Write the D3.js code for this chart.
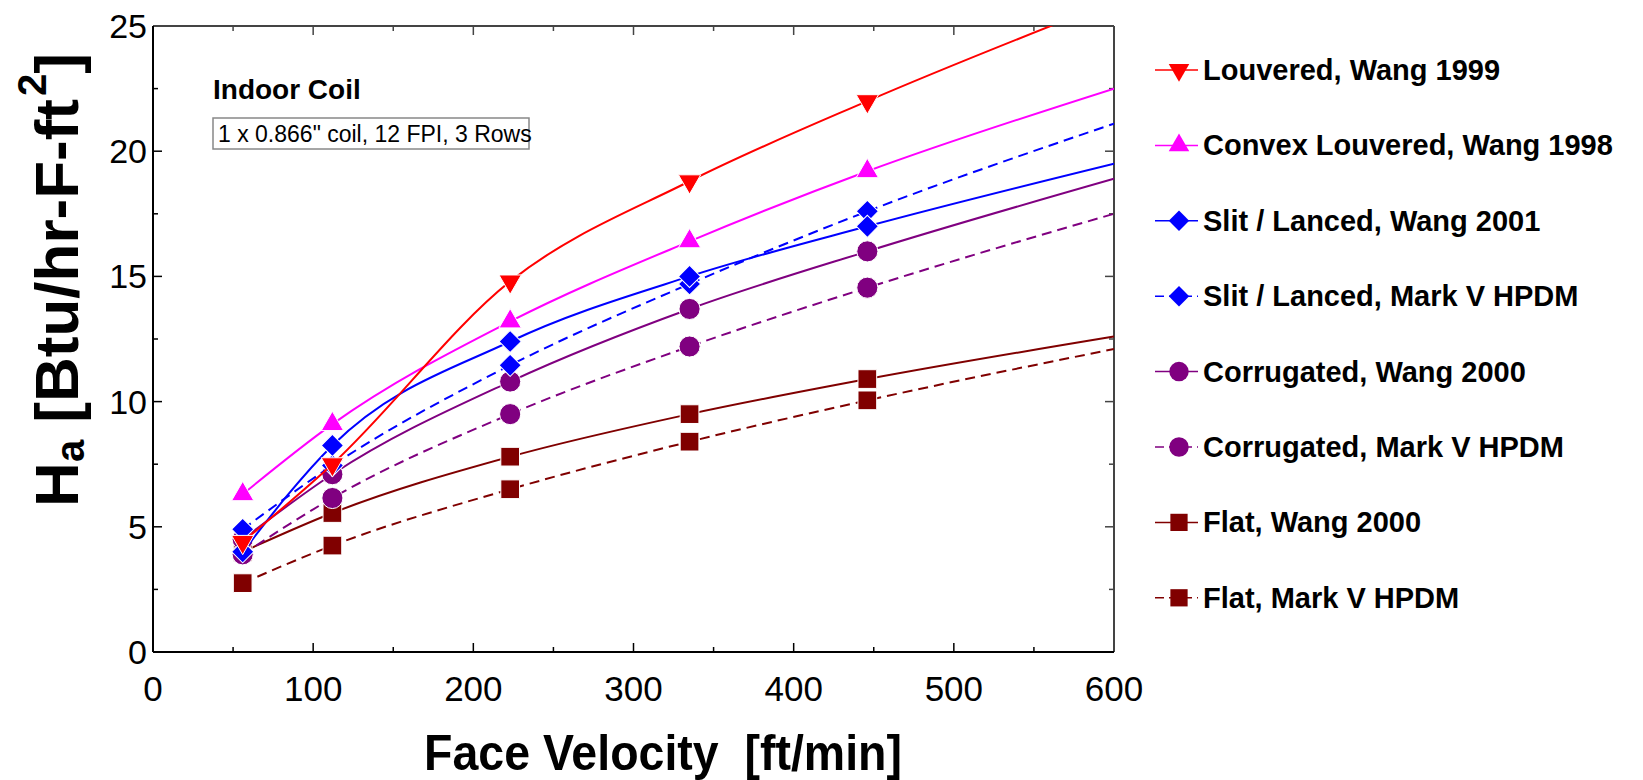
<!DOCTYPE html>
<html>
<head>
<meta charset="utf-8">
<script src="https://cdn.jsdelivr.net/npm/d3@7"></script>
<style>
  body { margin: 0; background: #fff; }
  svg { display: block; font-family: Arial, "Liberation Sans", sans-serif; }
</style>
</head>
<body>
<div id="chart"></div>
<script>
// face velocity of the measured points [ft/min]
var velocity = [56, 112, 223, 335, 446];
var velocityEnd = 600; // fitted curves run out to the axis end

// Ha values at the points, plus the value of the curve at 600
var louveredWang1999 = [4.4, 7.5, 14.8, 18.8, 22.0],  louveredWang1999End = 26.0;
var convexWang1998   = [6.3, 9.1, 13.2, 16.4, 19.2],  convexWang1998End = 22.5;
var slitWang2001     = [4.0, 8.25, 12.4, 15.0, 17.0], slitWang2001End = 19.5;
var slitMarkV        = [4.9, 7.45, 11.45, 14.7, 17.6], slitMarkVEnd = 21.1;
var corrWang2000     = [4.5, 7.1, 10.8, 13.7, 16.0],  corrWang2000End = 18.9;
var corrMarkV        = [3.9, 6.15, 9.5, 12.2, 14.55], corrMarkVEnd = 17.5;
var flatWang2000     = [4.0, 5.55, 7.8, 9.5, 10.9],   flatWang2000End = 12.6;
var flatMarkV        = [2.75, 4.25, 6.5, 8.4, 10.05], flatMarkVEnd = 12.1;

var xTicks = [0, 100, 200, 300, 400, 500, 600];
var yTicks = [0, 5, 10, 15, 20, 25];

var series = [
  { name: 'Louvered, Wang 1999',         vals: louveredWang1999, end: louveredWang1999End, clr: '#ff0000', mark: 'down',    dash: null },
  { name: 'Convex Louvered, Wang 1998',  vals: convexWang1998,   end: convexWang1998End,   clr: '#ff00ff', mark: 'up',      dash: null },
  { name: 'Slit / Lanced, Wang 2001',    vals: slitWang2001,     end: slitWang2001End,     clr: '#0000ff', mark: 'diamond', dash: null },
  { name: 'Slit / Lanced, Mark V HPDM',  vals: slitMarkV,        end: slitMarkVEnd,        clr: '#0000ff', mark: 'diamond', dash: '10,6' },
  { name: 'Corrugated, Wang 2000',       vals: corrWang2000,     end: corrWang2000End,     clr: '#800080', mark: 'circle',  dash: null },
  { name: 'Corrugated, Mark V HPDM',     vals: corrMarkV,        end: corrMarkVEnd,        clr: '#800080', mark: 'circle',  dash: '10,6' },
  { name: 'Flat, Wang 2000',             vals: flatWang2000,     end: flatWang2000End,     clr: '#800000', mark: 'square',  dash: null },
  { name: 'Flat, Mark V HPDM',           vals: flatMarkV,        end: flatMarkVEnd,        clr: '#800000', mark: 'square',  dash: '10,6' }
];

var W = 1643, H = 780;
var m = { left: 153, right: 1114, top: 26, bottom: 652 };

var svg = d3.select('#chart').append('svg').attr('width', W).attr('height', H);

var x = d3.scaleLinear().domain([0, 600]).range([m.left, m.right]);
var y = d3.scaleLinear().domain([0, 25]).range([m.bottom, m.top]);

svg.append('clipPath').attr('id', 'plotClip')
  .append('rect')
  .attr('x', m.left).attr('y', m.top)
  .attr('width', m.right - m.left).attr('height', m.bottom - m.top);

// ticks, all pointing into the plot
var minorX = d3.range(0, 601, 50), minorY = d3.range(0, 25.01, 2.5);
function tickLen(v, step) { return Math.abs(v / step - Math.round(v / step)) < 1e-6 ? 9 : 5; }

var tk = svg.append('g').attr('stroke', '#000').attr('stroke-width', 1.5);
minorX.forEach(function (v) {
  var L = tickLen(v, 100);
  tk.append('line').attr('x1', x(v)).attr('x2', x(v)).attr('y1', m.bottom).attr('y2', m.bottom - L);
  tk.append('line').attr('x1', x(v)).attr('x2', x(v)).attr('y1', m.top).attr('y2', m.top + L).attr('stroke', '#444');
});
minorY.forEach(function (v) {
  var L = tickLen(v, 5);
  tk.append('line').attr('y1', y(v)).attr('y2', y(v)).attr('x1', m.left).attr('x2', m.left + L);
  tk.append('line').attr('y1', y(v)).attr('y2', y(v)).attr('x1', m.right).attr('x2', m.right - L).attr('stroke', '#444');
});

// frame
svg.append('line').attr('x1', m.left).attr('x2', m.right).attr('y1', m.top).attr('y2', m.top).attr('stroke', '#444').attr('stroke-width', 2);
svg.append('line').attr('x1', m.right).attr('x2', m.right).attr('y1', m.top).attr('y2', m.bottom).attr('stroke', '#444').attr('stroke-width', 2);
svg.append('line').attr('x1', m.left).attr('x2', m.right).attr('y1', m.bottom).attr('y2', m.bottom).attr('stroke', '#000').attr('stroke-width', 2);
svg.append('line').attr('x1', m.left).attr('x2', m.left).attr('y1', m.top).attr('y2', m.bottom).attr('stroke', '#000').attr('stroke-width', 2);

// tick labels
svg.selectAll('text.xl').data(xTicks).enter().append('text')
  .attr('class', 'xl')
  .attr('x', d => x(d)).attr('y', 701)
  .attr('text-anchor', 'middle').attr('font-size', 35)
  .text(d => d);

svg.selectAll('text.yl').data(yTicks).enter().append('text')
  .attr('class', 'yl')
  .attr('x', m.left - 6).attr('y', d => y(d) + 12)
  .attr('text-anchor', 'end').attr('font-size', 34)
  .text(d => d);

// axis titles
svg.append('text')
  .attr('transform', 'translate(663,770) scale(0.93,1)')
  .attr('text-anchor', 'middle').attr('font-size', 50).attr('font-weight', 'bold')
  .attr('xml:space', 'preserve')
  .text('Face Velocity  [ft/min]');

var yt = svg.append('text')
  .attr('transform', 'translate(78,280) rotate(-90)')
  .attr('text-anchor', 'middle').attr('font-size', 62).attr('font-weight', 'bold');
yt.append('tspan').text('H');
yt.append('tspan').attr('font-size', 40).attr('dy', 6).text('a');
yt.append('tspan').attr('dy', -6).text(' [Btu/hr-F-ft');
yt.append('tspan').attr('font-size', 40).attr('dy', -32).attr('dx', 3).text('2');
yt.append('tspan').attr('dy', 32).text(']');

// annotation
svg.append('text').attr('x', 213).attr('y', 99)
  .attr('font-size', 28).attr('font-weight', 'bold').text('Indoor Coil');
svg.append('rect').attr('x', 213).attr('y', 118).attr('width', 316).attr('height', 31)
  .attr('fill', 'none').attr('stroke', '#888').attr('stroke-width', 1.5);
svg.append('text').attr('x', 218).attr('y', 142)
  .attr('font-size', 23).text('1 x 0.866" coil, 12 FPI, 3 Rows');

// markers
function symbolPath(kind, k) {
  k = k || 1;
  if (kind === 'circle') return d3.symbol().type(d3.symbolCircle).size(350 * k)();
  if (kind === 'square') return d3.symbol().type(d3.symbolSquare).size(350 * k)();
  if (kind === 'diamond') return d3.symbol().type(d3.symbolSquare).size(245 * k)();
  return d3.symbol().type(d3.symbolTriangle).size(215 * k)();
}
function symbolRot(kind) {
  if (kind === 'diamond') return ' rotate(45)';
  if (kind === 'down') return ' rotate(180)';
  return '';
}

var line = d3.line().curve(d3.curveMonotoneX).x(d => x(d[0])).y(d => y(d[1]));

var plot = svg.append('g');
series.slice().reverse().forEach(function (s) {
  var pts = velocity.map((v, i) => [v, s.vals[i]]).concat([[velocityEnd, s.end]]);
  var g = plot.append('g');
  g.append('path')
    .attr('d', line(pts))
    .attr('clip-path', 'url(#plotClip)')
    .attr('fill', 'none').attr('stroke', s.clr).attr('stroke-width', 2)
    .attr('stroke-dasharray', s.dash);
  g.selectAll('path.mk').data(velocity.map((v, i) => [v, s.vals[i]])).enter().append('path')
    .attr('class', 'mk')
    .attr('d', symbolPath(s.mark))
    .attr('transform', d => 'translate(' + x(d[0]) + ',' + y(d[1]) + ')' + symbolRot(s.mark))
    .attr('fill', s.clr).attr('stroke', '#fff').attr('stroke-width', 1);
});

// legend
var lg = svg.append('g');
series.forEach(function (s, i) {
  var cy = 70 + i * 75.4;
  lg.append('line').attr('x1', 1155).attr('x2', 1198).attr('y1', cy).attr('y2', cy)
    .attr('stroke', s.clr).attr('stroke-width', 1.5).attr('stroke-dasharray', s.dash ? '9,5' : null);
  lg.append('path').attr('d', symbolPath(s.mark, 0.85))
    .attr('transform', 'translate(1179,' + cy + ')' + symbolRot(s.mark))
    .attr('fill', s.clr);
  lg.append('text').attr('x', 1203).attr('y', cy + 10)
    .attr('font-size', 29).attr('font-weight', 'bold').text(s.name);
});
</script>
</body>
</html>
